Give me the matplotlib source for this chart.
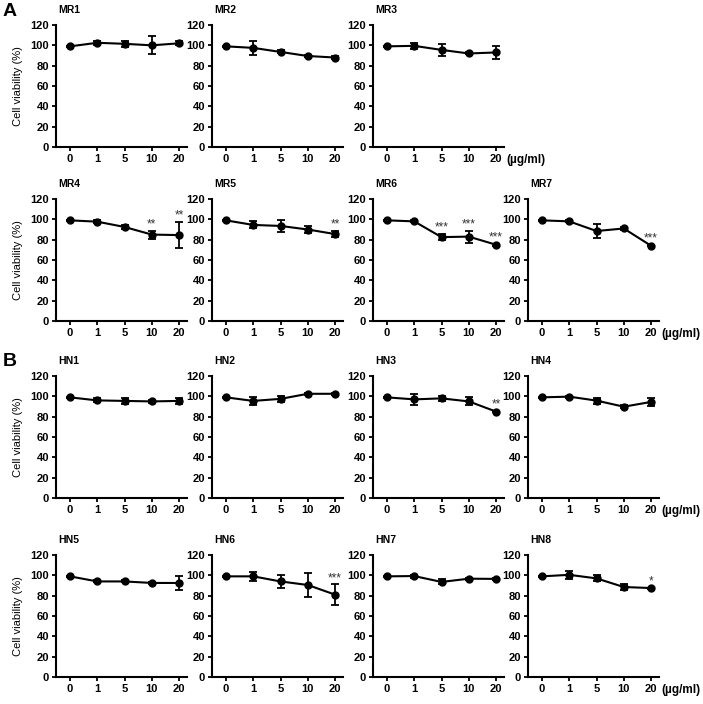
import matplotlib
matplotlib.use("Agg")
import matplotlib.pyplot as plt

plt.rcParams['font.family'] = ['Liberation Sans', 'DejaVu Sans']

conc_labels = ['0', '1', '5', '10', '20']

MR1_mean = [99, 102.5, 101.5, 100, 102]
MR1_sd = [0.5, 2, 3, 9, 2]
MR1_sig = ['', '', '', '', '']
MR2_mean = [99, 97.5, 93.5, 89.5, 88]
MR2_sd = [0.5, 7, 1.5, 1, 1.5]
MR2_sig = ['', '', '', '', '']
MR3_mean = [99, 99.5, 95.5, 92, 93]
MR3_sd = [0.5, 3, 6, 1, 6]
MR3_sig = ['', '', '', '', '']
MR4_mean = [99, 97.7, 92.5, 85, 84.5]
MR4_sd = [0.5, 1.5, 2, 4, 13]
MR4_sig = ['', '', '', '**', '**']
MR5_mean = [99, 94.5, 93.5, 90, 85.5]
MR5_sd = [0.5, 3.5, 5.5, 3, 3]
MR5_sig = ['', '', '', '', '**']
MR6_mean = [99, 98, 82.5, 83, 75]
MR6_sd = [0.5, 1, 3, 6, 1]
MR6_sig = ['', '', '***', '***', '***']
MR7_mean = [99, 98, 88.5, 91, 74]
MR7_sd = [0.5, 1, 7, 1, 0.5]
MR7_sig = ['', '', '', '', '***']

HN1_mean = [99, 96, 95.5, 95, 95.5]
HN1_sd = [0.5, 2, 3, 1.5, 3]
HN1_sig = ['', '', '', '', '']
HN2_mean = [99, 95.5, 97.5, 102.5, 102.5]
HN2_sd = [0.5, 4, 3, 1, 1]
HN2_sig = ['', '', '', '', '']
HN3_mean = [99, 97, 98, 95, 85]
HN3_sd = [0.5, 5.5, 2.5, 4, 0.5]
HN3_sig = ['', '', '', '', '**']
HN4_mean = [99, 99.7, 95.8, 89.8, 94.5]
HN4_sd = [0.5, 1, 3, 1.5, 4]
HN4_sig = ['', '', '', '', '']
HN5_mean = [99, 94, 94, 92.5, 92.5]
HN5_sd = [0.5, 1, 1, 1, 6.5]
HN5_sig = ['', '', '', '', '']
HN6_mean = [99, 99, 94, 90.5, 81]
HN6_sd = [0.5, 4.5, 6.5, 12, 10]
HN6_sig = ['', '', '', '', '***']
HN7_mean = [99, 99.3, 93.5, 96.7, 96.5]
HN7_sd = [0.5, 1.5, 2.5, 1, 1]
HN7_sig = ['', '', '', '', '']
HN8_mean = [99, 100.5, 97, 88.5, 87.5]
HN8_sd = [0.5, 4, 3, 3, 0.5]
HN8_sig = ['', '', '', '', '*']

rows = [
    [('MR1', MR1_mean, MR1_sd, MR1_sig), ('MR2', MR2_mean, MR2_sd, MR2_sig),
     ('MR3', MR3_mean, MR3_sd, MR3_sig)],
    [('MR4', MR4_mean, MR4_sd, MR4_sig), ('MR5', MR5_mean, MR5_sd, MR5_sig),
     ('MR6', MR6_mean, MR6_sd, MR6_sig), ('MR7', MR7_mean, MR7_sd, MR7_sig)],
    [('HN1', HN1_mean, HN1_sd, HN1_sig), ('HN2', HN2_mean, HN2_sd, HN2_sig),
     ('HN3', HN3_mean, HN3_sd, HN3_sig), ('HN4', HN4_mean, HN4_sd, HN4_sig)],
    [('HN5', HN5_mean, HN5_sd, HN5_sig), ('HN6', HN6_mean, HN6_sd, HN6_sig),
     ('HN7', HN7_mean, HN7_sd, HN7_sig), ('HN8', HN8_mean, HN8_sd, HN8_sig)],
]

W, H = 703, 704
fig = plt.figure(figsize=(W / 100, H / 100), dpi=100)

row_top_px = [25, 199, 376, 555]
row_h_px = 122
col_left_px = [56, 212, 373, 528]
ax_w_px = 131

for r, row in enumerate(rows):
    for c, (name, mean, sd, sig) in enumerate(row):
        left = col_left_px[c] / W
        bottom = 1 - (row_top_px[r] + row_h_px) / H
        ax = fig.add_axes([left, bottom, ax_w_px / W, row_h_px / H])
        x = list(range(len(conc_labels)))
        ax.errorbar(x, mean, yerr=sd, color='black', lw=1.5, marker='o',
                    markersize=5, capsize=2.6, capthick=1.3, elinewidth=1.3)
        for xi, m, s, t in zip(x, mean, sd, sig):
            if t:
                ax.text(xi, m + s + 0.5, t, ha='center', va='bottom',
                        fontsize=8.5, color='#333333')
        ax.set_xlim(-0.51, 4.29)
        ax.set_ylim(0, 120)
        ax.set_yticks([0, 20, 40, 60, 80, 100, 120])
        ax.set_xticks(x)
        ax.set_xticklabels(conc_labels)
        for sp in ['top', 'right']:
            ax.spines[sp].set_visible(False)
        for sp in ['left', 'bottom']:
            ax.spines[sp].set_linewidth(1.5)
        ax.tick_params(axis='both', direction='out', length=3, width=1.3,
                       labelsize=8, pad=2)
        for lab in ax.get_xticklabels() + ax.get_yticklabels():
            lab.set_fontweight('bold')
        ax.text(0.02, 1.08, name, transform=ax.transAxes, ha='left',
                va='bottom', fontsize=7.5, fontweight='bold')
        if c == 0:
            ax.set_ylabel('Cell viability (%)', fontsize=8, labelpad=5)
        if c == len(row) - 1:
            ax.annotate('(\u00b5g/ml)', xy=(4, 0),
                        xycoords=('data', 'axes fraction'),
                        xytext=(7.5, -5), textcoords='offset points',
                        ha='left', va='top', fontsize=8.5, fontweight='bold')

fig.text(3 / W, 1 - 12 / H, 'A', fontsize=14, fontweight='bold',
         ha='left', va='center')
fig.text(3 / W, 1 - 362 / H, 'B', fontsize=14, fontweight='bold',
         ha='left', va='center')

fig.savefig('out.png', dpi=100)
